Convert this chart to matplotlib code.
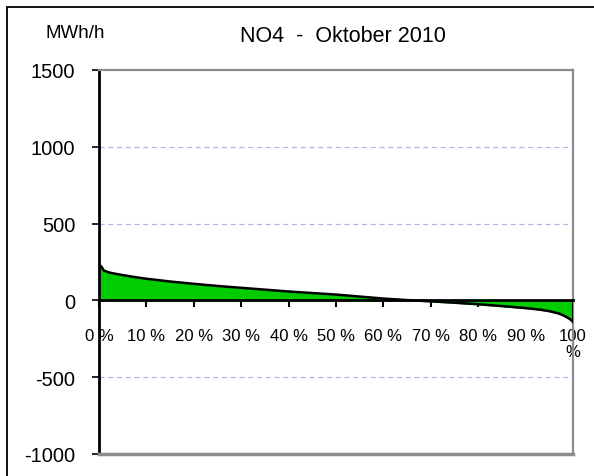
import matplotlib
matplotlib.use("Agg")
import matplotlib.pyplot as plt
from matplotlib.patches import Rectangle

plt.rcParams['font.family'] = ['Liberation Sans', 'DejaVu Sans']

title = "NO4  -  Oktober 2010"
unit = "MWh/h"
pct = [0, 0.5, 1, 2, 3, 5, 7.5, 10, 15, 20, 25, 30, 35, 40, 45, 50, 55, 60,
       65, 70, 75, 80, 85, 90, 93, 95, 97, 98, 99, 99.5, 100]
vals = [234, 220, 195, 183, 176, 165, 152, 141, 123, 108, 94, 82, 70, 58, 48,
        38, 25, 12, 2, -6, -15, -25, -37, -50, -60, -70, -85, -98, -115, -125, -140]
xticks = [0, 10, 20, 30, 40, 50, 60, 70, 80, 90, 100]
xlabels = ["0 %", "10 %", "20 %", "30 %", "40 %", "50 %", "60 %", "70 %", "80 %", "90 %", "100\n%"]
yticks = [-1000, -500, 0, 500, 1000, 1500]

W, H = 594, 477
fig = plt.figure(figsize=(W / 100, H / 100), dpi=100)
ax = fig.add_axes([99 / W, (H - 455) / H, (573 - 99) / W, (455 - 71) / H])

fig.patches.append(Rectangle((7 / W, -0.1), 1.1, (H - 8) / H + 0.1, transform=fig.transFigure,
                             fill=False, edgecolor='black', linewidth=1.3))

ax.set_xlim(0, 100)
ax.set_ylim(-1000, 1500)

for g in [1000, 500, -500]:
    ax.axhline(g, color='#b4b4f0', linestyle=(0, (4, 3)), linewidth=0.9, zorder=1)

ax.fill_between(pct, vals, 0, color='#00cc00', zorder=2)
ax.plot(pct, vals, color='black', linewidth=1.8, zorder=3)
ax.plot([100, 100], [vals[-1], 0], color='black', linewidth=1.5, zorder=3)

ax.spines['bottom'].set_position(('data', 0))
ax.spines['bottom'].set_color('black')
ax.spines['bottom'].set_linewidth(2)
ax.spines['left'].set_color('black')
ax.spines['left'].set_linewidth(2)
for s in ['top', 'right']:
    ax.spines[s].set_color('#8c8c8c')
    ax.spines[s].set_linewidth(1.6)
ax.axhline(-1000, color='#8c8c8c', linewidth=2.5, zorder=4, clip_on=False)

ax.set_xticks(xticks)
ax.set_xticklabels(xlabels, fontsize=12, linespacing=1.1, va='top')
ax.tick_params(axis='x', direction='out', length=5, width=1.5, pad=15, colors='black')
ax.set_yticks(yticks)
ax.set_yticklabels([str(v) for v in yticks], fontsize=14.5)
ax.tick_params(axis='y', direction='out', length=5, width=1.2, pad=12)

fig.text(343 / W, 1 - 36 / H, title, ha='center', va='center', fontsize=15.5)
fig.text(75 / W, 1 - 33 / H, unit, ha='center', va='center', fontsize=13.5)

fig.savefig("out.png", dpi=100)
